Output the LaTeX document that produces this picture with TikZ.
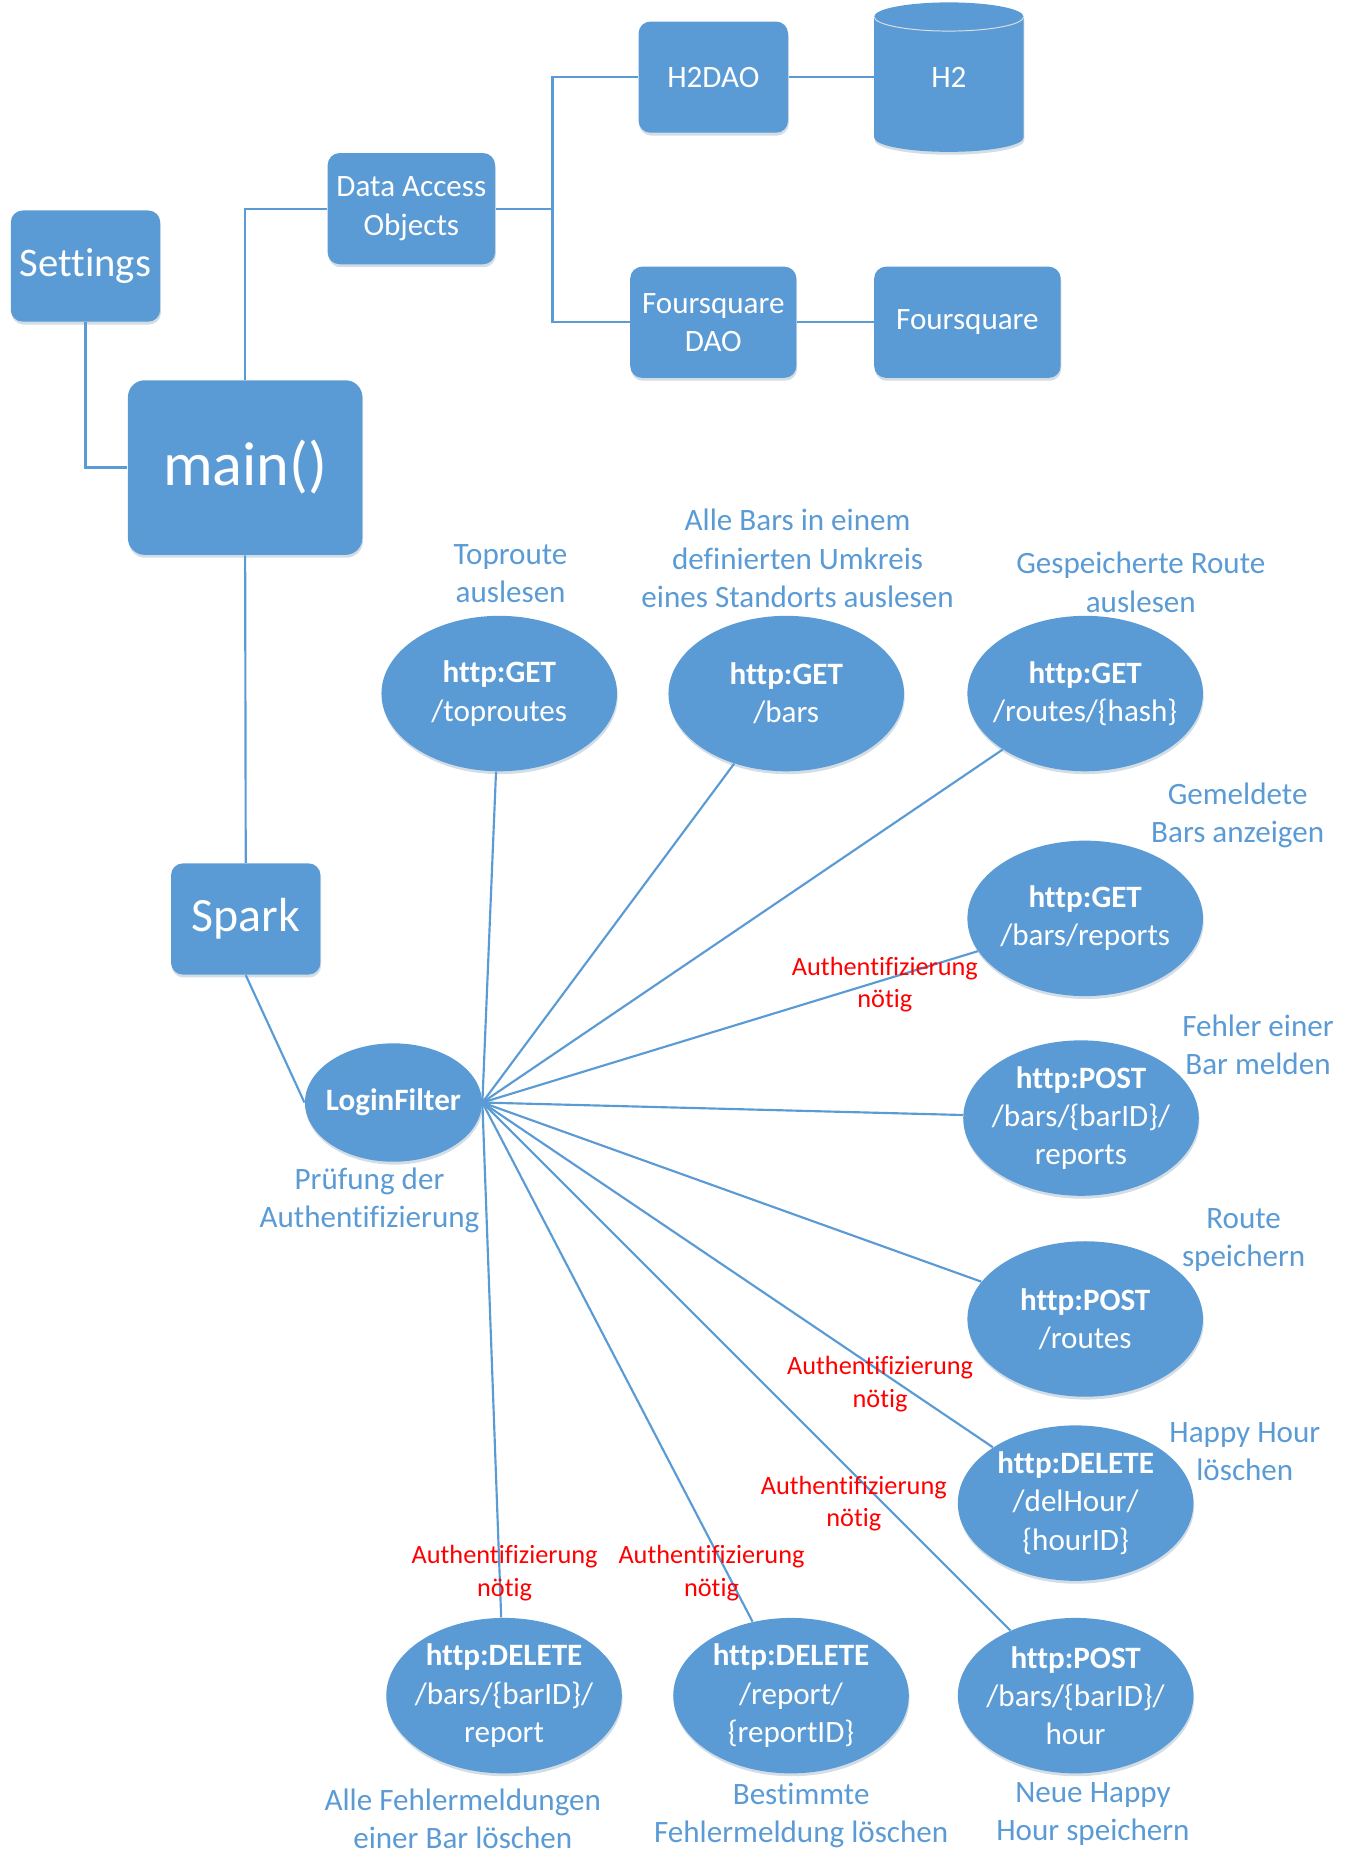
\documentclass[tikz,border=0pt]{standalone}
\usepackage{fontspec}
\setmainfont{Carlito}[Ligatures={NoCommon}]
\usetikzlibrary{shapes.geometric,shadows}
\definecolor{bblue}{HTML}{5B9BD5}
\tikzset{
  softshadow/.style={drop shadow={shadow xshift=0.3pt, shadow yshift=-1.2pt, fill=bblue!50!gray, opacity=0.3}},
  dbox/.style={rectangle, rounded corners=5pt, fill=bblue, text=white, align=center, inner sep=0pt,
    minimum height=46.5pt, font=\fontsize{13}{16}\selectfont, softshadow},
  endpoint/.style={ellipse, fill=bblue, text=white, align=center, inner xsep=-12pt, inner ysep=-5pt,
    minimum width=98.5pt, minimum height=65pt, font=\fontsize{13}{16}\selectfont, softshadow},
  desc/.style={text=bblue, align=center, font=\fontsize{13}{16}\selectfont},
  auth/.style={text=red, align=center, font=\fontsize{11}{13.5}\selectfont},
  link/.style={draw=bblue, line width=0.9pt}
}
\begin{document}
\begin{tikzpicture}[x=0.5pt,y=0.5pt]
\useasboundingbox (0,0) rectangle (1138,-1568);
% program structure
\node[dbox, minimum width=62.5pt, font=\fontsize{17}{20}\selectfont] (settings) at (71.5,-222.5) {Settings};
\node[dbox, minimum width=98pt, minimum height=73pt, rounded corners=7pt, font=\fontsize{26}{30}\selectfont] (main) at (205,-391) {main()};
\node[dbox, minimum width=70pt] (dao) at (344,-174.5) {Data Access\\Objects};
\node[dbox, minimum width=62.5pt] (h2dao) at (596.5,-64.5) {H2DAO};
\node[dbox, minimum width=69.5pt] (fsdao) at (596.5,-269.5) {Foursquare\\DAO};
\node[dbox, minimum width=78pt] (fs) at (809,-269.5) {Foursquare};
\node[dbox, minimum width=62.5pt, font=\fontsize{20}{24}\selectfont] (spark) at (205.5,-768.5) {Spark};
% database
\fill[bblue, softshadow] (731,-14) -- (731,-115) arc[start angle=180, end angle=360, x radius=62.5, y radius=12]
  -- (856,-14) arc[start angle=0, end angle=180, x radius=62.5, y radius=12] -- cycle;
\draw[white!75!gray, line width=0.4pt] (731,-14) arc[start angle=180, end angle=360, x radius=62.5, y radius=12];
\node[minimum width=62.5pt, minimum height=62.5pt, inner sep=0pt, text=white, font=\fontsize{13}{16}\selectfont] (h2) at (793.5,-64.5) {H2};
\coordinate (split) at (462,-174.5);
\draw[link] (settings.south) |- (main.west);
\draw[link] (main.north) |- (dao.west);
\draw[link] (dao.east) -- (split);
\draw[link] (h2dao.west) -| (split) |- (fsdao.west);
\draw[link] (h2dao) -- (h2);
\draw[link] (fsdao) -- (fs);
\draw[link] (main.south) -- (spark.north);
% filter and routes
\node[endpoint, minimum width=74pt, minimum height=49.5pt, font=\bfseries\fontsize{13}{16}\selectfont] (lf) at (329,-922) {LoginFilter};
\draw[link] (spark.south) -- (lf.west);
\node[endpoint] (gettop) at (417.5,-580) {\textbf{http:GET}\\/toproutes};
\node[endpoint] (getbars) at (657.5,-580) {\textbf{http:GET}\\/bars};
\node[endpoint] (getroute) at (907.5,-580) {\textbf{http:GET}\\/routes/\{hash\}};
\node[endpoint] (getreports) at (907.5,-768) {\textbf{http:GET}\\/bars/reports};
\node[endpoint] (postreport) at (904,-935) {\textbf{http:POST}\\/bars/\{barID\}/\\reports};
\node[endpoint] (postroute) at (907.5,-1103) {\textbf{http:POST}\\/routes};
\node[endpoint] (delhour) at (899.5,-1257) {\textbf{http:DELETE}\\/delHour/\\\{hourID\}};
\node[endpoint] (posthour) at (899.5,-1418) {\textbf{http:POST}\\/bars/\{barID\}/\\hour};
\node[endpoint] (delreport) at (661.5,-1418) {\textbf{http:DELETE}\\/report/\\\{reportID\}};
\node[endpoint] (delbarreports) at (421.5,-1418) {\textbf{http:DELETE}\\/bars/\{barID\}/\\report};
\foreach \ep in {gettop,getbars,getroute,getreports,postreport,postroute,delhour,posthour,delreport,delbarreports}
  \draw[link] (lf.east) -- (\ep);
% descriptions
\node[desc] (dtop) at (427,-479.5) {Toproute\\auslesen};
\node[desc] (dbars) at (667,-467) {Alle Bars in einem\\definierten Umkreis\\eines Standorts auslesen};
\node[desc] (droute) at (954,-487) {Gespeicherte Route\\auslesen};
\node[desc] (dreports) at (1035,-682) {Gemeldete\\Bars anzeigen};
\node[desc] (dpostreport) at (1052,-874) {Fehler einer\\Bar melden};
\node[desc] (dpostroute) at (1040,-1037) {Route\\speichern};
\node[desc] (ddelhour) at (1041,-1214) {Happy Hour\\löschen};
\node[desc] (dlf) at (309,-1004) {Prüfung der\\Authentifizierung};
\node[desc] (ddelbar) at (387,-1521) {Alle Fehlermeldungen\\einer Bar löschen};
\node[desc] (ddelreport) at (670,-1518) {Bestimmte\\Fehlermeldung löschen};
\node[desc] (dposthour) at (914,-1517) {Neue Happy\\Hour speichern};
% auth notes
\node[auth] (a1) at (740,-823.5) {Authentifizierung\\nötig};
\node[auth] (a2) at (736,-1157.5) {Authentifizierung\\nötig};
\node[auth] (a3) at (714,-1257.5) {Authentifizierung\\nötig};
\node[auth] (a4) at (422,-1315.5) {Authentifizierung\\nötig};
\node[auth] (a5) at (595,-1315.5) {Authentifizierung\\nötig};
\end{tikzpicture}
\end{document}
